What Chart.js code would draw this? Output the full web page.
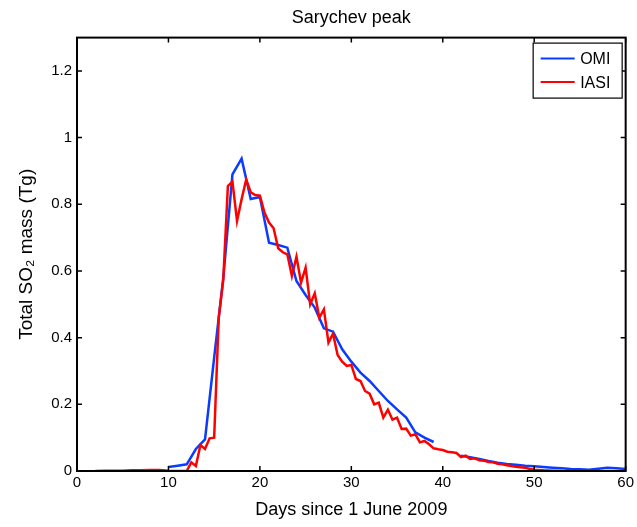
<!DOCTYPE html>
<html lang="en">
<head>
<meta charset="UTF-8">
<script src="https://cdn.jsdelivr.net/npm/chart.js"></script>
<title>Sarychev peak</title>
<style>
  body { margin: 0; background: #fff; }
</style>
</head>
<body>
<canvas id="grafico" width="637" height="527"></canvas>

<script>
// OMI - one value per day (null = no data)
const omiDays = [10, 11, 12, 13, 14, 15, 16, 17, 18, 19, 20, 21, 22, 23, 24, 25, 26, 27, 28, 29,
  30, 31, 32, 33, 34, 35, 36, 37, 38, 39, 40, 41, 42, 43, 44, 45, 46, 47, 48, 49,
  50, 51, 52, 53, 54, 55, 56, 57, 58, 59, 60];
const omiMass = [0.012, 0.016, 0.020, 0.066, 0.095, 0.340, 0.580, 0.890, 0.937, 0.816, 0.822, 0.685, 0.678, 0.670, 0.570, 0.528, 0.490, 0.428, 0.418, 0.365,
  0.328, 0.295, 0.270, 0.240, 0.210, 0.185, 0.160, 0.116, 0.100, 0.087, null, null, 0.046, 0.041, 0.036, 0.030, 0.025, 0.021, 0.019, 0.016,
  0.014, 0.012, 0.010, 0.008, 0.006, 0.005, 0.004, 0.007, 0.010, 0.008, 0.006];

// IASI - two overpasses per day
const iasiDays = [2, 3, 4, 5, 6, 7, 8, 9, 10, 11, 12, 12.5, 13, 13.5, 14, 14.5, 15, 15.5, 16, 16.5,
  17, 17.5, 18, 18.5, 19, 19.5, 20, 20.5, 21, 21.5, 22, 22.5, 23, 23.5, 24, 24.5, 25, 25.5, 26, 26.5,
  27, 27.5, 28, 28.5, 29, 29.5, 30, 30.5, 31, 31.5, 32, 32.5, 33, 33.5, 34, 34.5, 35, 35.5, 36, 36.5,
  37, 37.5, 38, 38.5, 39, 39.5, 40, 40.5, 41, 41.5, 42, 42.5, 43, 43.5, 44, 44.5, 45, 45.5, 46, 46.5,
  47, 47.5, 48, 48.5, 49, 49.5, 50, 50.5, 51, 52, 53];
const iasiMass = [0.000, 0.001, 0.001, 0.001, 0.002, 0.002, 0.003, 0.003, 0.001, 0.000, 0.000, 0.026, 0.015, 0.078, 0.066, 0.098, 0.100, 0.460, 0.575, 0.855,
  0.868, 0.750, 0.815, 0.874, 0.836, 0.828, 0.826, 0.775, 0.745, 0.728, 0.668, 0.656, 0.650, 0.585, 0.643, 0.565, 0.610, 0.500, 0.533, 0.460,
  0.485, 0.385, 0.412, 0.348, 0.328, 0.315, 0.318, 0.276, 0.270, 0.240, 0.232, 0.200, 0.205, 0.160, 0.184, 0.154, 0.160, 0.126, 0.127, 0.106,
  0.110, 0.086, 0.090, 0.080, 0.068, 0.065, 0.063, 0.058, 0.056, 0.054, 0.042, 0.046, 0.036, 0.038, 0.032, 0.031, 0.027, 0.026, 0.022, 0.020,
  0.017, 0.015, 0.013, 0.011, 0.010, 0.006, 0.004, 0.003, 0.002, 0.001, 0.000];

const xTicks = [0, 10, 20, 30, 40, 50, 60];
const yTicks = [0, 0.2, 0.4, 0.6, 0.8, 1, 1.2];

const fonte = "'Liberation Sans', Arial, Helvetica, sans-serif";
Chart.defaults.font.family = fonte;
Chart.defaults.color = '#000';

// caixa do grafico + ticks para dentro (estilo matlab)
const caixa = {
  id: 'caixa',
  afterDraw(chart) {
    const ctx = chart.ctx;
    const a = chart.chartArea;
    const sx = chart.scales.x;
    const sy = chart.scales.y;
    const t = 5;
    ctx.save();
    ctx.strokeStyle = '#000';
    ctx.lineWidth = 1.5;
    ctx.beginPath();
    xTicks.forEach(function (v) {
      const px = sx.getPixelForValue(v);
      ctx.moveTo(px, a.bottom); ctx.lineTo(px, a.bottom - t);
      ctx.moveTo(px, a.top); ctx.lineTo(px, a.top + t);
    });
    yTicks.forEach(function (v) {
      const py = sy.getPixelForValue(v);
      ctx.moveTo(a.left, py); ctx.lineTo(a.left + t, py);
      ctx.moveTo(a.right, py); ctx.lineTo(a.right - t, py);
    });
    ctx.stroke();
    ctx.lineWidth = 2;
    ctx.strokeRect(a.left, a.top, a.right - a.left, a.bottom - a.top);
    ctx.restore();
  }
};

// legenda dentro do grafico, canto superior direito
const legenda = {
  id: 'legenda',
  afterDraw(chart) {
    const ctx = chart.ctx;
    const a = chart.chartArea;
    const bx = a.right - 92.5;
    const by = a.top + 5.5;
    const bw = 89;
    const bh = 55;
    ctx.save();
    ctx.fillStyle = '#fff';
    ctx.fillRect(bx, by, bw, bh);
    ctx.strokeStyle = '#000';
    ctx.lineWidth = 1.2;
    ctx.strokeRect(bx, by, bw, bh);
    ctx.font = '16px ' + fonte;
    ctx.textAlign = 'left';
    ctx.textBaseline = 'middle';
    chart.data.datasets.forEach(function (ds, i) {
      const ly = by + 15.5 + i * 23.5;
      ctx.strokeStyle = ds.borderColor;
      ctx.lineWidth = 2;
      ctx.beginPath();
      ctx.moveTo(bx + 7.5, ly);
      ctx.lineTo(bx + 41.5, ly);
      ctx.stroke();
      ctx.fillStyle = '#000';
      ctx.fillText(ds.label, bx + 47, ly + 1);
    });
    ctx.restore();
  }
};

const dados = {
  datasets: [{
    label: 'OMI',
    data: omiDays.map(function (d, i) { return { x: d, y: omiMass[i] }; }),
    borderColor: '#0a3cff',
    borderWidth: 2.5,
    pointRadius: 0,
    tension: 0,
    spanGaps: false,
    order: 2
  },
  {
    label: 'IASI',
    data: iasiDays.map(function (d, i) { return { x: d, y: iasiMass[i] }; }),
    borderColor: '#ff0000',
    borderWidth: 2.5,
    pointRadius: 0,
    tension: 0,
    order: 1
  }]
};

const config = {
  type: 'line',
  data: dados,
  options: {
    responsive: false,
    animation: false,
    layout: {
      padding: { top: 0, right: 9.5, bottom: 0, left: 0 }
    },
    plugins: {
      legend: { display: false },
      tooltip: { enabled: false },
      title: {
        display: true,
        text: 'Sarychev peak',
        fullSize: false,
        font: { size: 18, weight: 'normal' },
        padding: { top: 7, bottom: 9 }
      }
    },
    scales: {
      x: {
        type: 'linear',
        min: 0,
        max: 60,
        grid: { display: false, drawTicks: false },
        border: { display: false },
        ticks: {
          stepSize: 10,
          padding: 3,
          font: { size: 15 },
          maxRotation: 0
        },
        title: {
          display: true,
          text: 'Days since 1 June 2009',
          font: { size: 18 },
          padding: { top: 0, bottom: 6 }
        },
        afterFit: function (scale) { scale.height = 56; }
      },
      y: {
        type: 'linear',
        min: 0,
        max: 1.3,
        grid: { display: false, drawTicks: false },
        border: { display: false },
        ticks: {
          stepSize: 0.2,
          padding: 5,
          font: { size: 15 },
          callback: function (v) { return String(+v.toFixed(1)); }
        },
        afterBuildTicks: function (scale) {
          scale.ticks = scale.ticks.filter(function (t) { return t.value <= 1.2 + 1e-9; });
        },
        title: {
          display: true,
          text: 'Total SO\u2082 mass (Tg)',
          font: { size: 19 },
          padding: { top: 15, bottom: 0 }
        },
        afterFit: function (scale) { scale.width = 77; }
      }
    }
  },
  plugins: [caixa, legenda]
};

const grafico = new Chart(
  document.getElementById('grafico'),
  config
);
</script>
</body>
</html>
